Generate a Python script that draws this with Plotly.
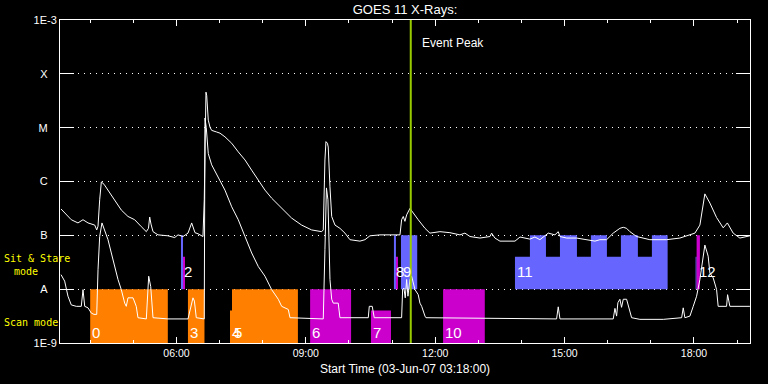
import pandas as pd
import plotly.graph_objects as go

# ---------------- data ----------------
start_time = "2007-06-03 03:18:00"
event_peak = "2007-06-03 11:26:00"

# GOES 11 long channel (1-8 A): minutes after start, flux (W/m^2)
long_min = [1.4, 15.7, 25.0, 32.0, 39.0, 48.3, 51.1, 52.9, 55.2, 57.5, 61.2, 66.8, 76.1, 85.3, 94.6,
            103.9, 113.1, 120.1, 123.1, 124.8, 126.6, 129.4, 136.3, 150.2, 159.6, 164.2, 171.1, 178.1,
            183.2, 187.8, 192.0, 198.9, 200.7, 202.1, 203.1, 204.1, 205.0, 206.3, 208.7, 211.0, 218.0,
            222.6, 229.5, 238.9, 248.0, 257.4, 266.7, 275.9, 285.2, 294.5, 308.4, 322.3, 336.2, 350.1,
            364.0, 366.3, 368.6, 370.0, 372.1, 373.2, 375.6, 378.0, 382.6, 389.5, 396.5, 403.4, 417.3,
            424.3, 431.2, 445.2, 459.1, 473.0, 475.3, 477.6, 479.9, 482.3, 486.9, 491.5, 498.4, 507.8,
            514.7, 528.6, 542.5, 556.4, 563.4, 570.4, 584.3, 598.2, 600.5, 605.1, 612.1, 633.0, 640.0,
            653.8, 660.8, 667.7, 679.3, 688.6, 693.2, 695.6, 704.9, 718.8, 732.7, 744.3, 751.2, 760.5,
            769.7, 779.0, 783.7, 788.3, 792.9, 802.2, 820.7, 844.0, 862.5, 883.4, 890.3, 893.8, 897.2,
            904.2, 913.5, 922.7, 928.5, 936.6, 945.9, 959.9]
long_flux = [3.09e-7, 1.95e-7, 1.70e-7, 1.95e-7, 1.70e-7, 1.55e-7, 1.26e-7, 1.48e-7, 4.57e-7, 9.8e-7,
             8.9e-7, 6.92e-7, 4.57e-7, 2.95e-7, 2.24e-7, 1.95e-7, 1.45e-7, 1.17e-7, 1.35e-7, 2.19e-7,
             1.62e-7, 1.17e-7, 1.02e-7, 9.8e-8, 9.1e-8, 1.02e-7, 9.5e-8, 1.10e-7, 1.70e-7, 1.12e-7,
             1.07e-7, 9.5e-8, 4.57e-7, 1.38e-5, 4.57e-5, 3.98e-5, 2.09e-5, 1.38e-5, 1.02e-5, 8.9e-6,
             8.3e-6, 7.9e-6, 6.76e-6, 5.13e-6, 3.55e-6, 2.51e-6, 1.62e-6, 1.07e-6, 6.92e-7, 4.90e-7,
             3.16e-7, 2.09e-7, 1.55e-7, 1.26e-7, 1.17e-7, 1.26e-7, 2.51e-6, 5.50e-6, 5.13e-6, 4.37e-6,
             7.94e-7, 2.24e-7, 1.55e-7, 1.35e-7, 1.10e-7, 8.3e-8, 7.8e-8, 8.3e-8, 9.8e-8, 1.02e-7,
             1.02e-7, 1.02e-7, 1.95e-7, 2.24e-7, 1.82e-7, 2.40e-7, 3.16e-7, 2.57e-7, 1.95e-7, 1.35e-7,
             1.10e-7, 1.17e-7, 1.12e-7, 1.02e-7, 1.10e-7, 9.5e-8, 8.9e-8, 9.5e-8, 1.10e-7, 8.9e-8,
             7.8e-8, 7.8e-8, 9.3e-8, 8.5e-8, 9.3e-8, 8.3e-8, 1.10e-7, 1.02e-7, 1.17e-7, 9.5e-8,
             8.9e-8, 8.9e-8, 8.3e-8, 7.8e-8, 8.3e-8, 8.3e-8, 1.10e-7, 1.35e-7, 1.41e-7, 1.35e-7,
             1.17e-7, 9.5e-8, 8.3e-8, 8.3e-8, 8.9e-8, 1.10e-7, 1.55e-7, 2.95e-7, 5.89e-7, 3.98e-7,
             2.14e-7, 1.38e-7, 1.70e-7, 1.10e-7, 8.9e-8, 9.8e-8]

# GOES 11 short channel (0.5-4 A)
short_min = [1.4, 6.5, 11.1, 15.7, 22.7, 29.6, 32.0, 34.4, 39.0, 43.5, 47.3, 51.1, 52.9, 55.2, 58.4,
             62.2, 66.8, 71.4, 76.1, 80.7, 85.3, 90.0, 92.2, 94.6, 101.6, 106.1, 108.5, 120.1, 123.4,
             126.2, 129.4, 150.2, 178.1, 182.7, 185.0, 187.0, 189.6, 200.7, 201.7, 203.5, 206.3, 211.0,
             220.2, 229.5, 238.9, 248.0, 257.4, 266.7, 275.9, 285.2, 294.5, 303.7, 308.4, 317.6, 320.0,
             366.3, 368.6, 370.7, 372.8, 374.2, 375.6, 378.0, 380.2, 387.1, 389.5, 428.9, 430.3, 434.4,
             437.2, 475.3, 476.7, 478.5, 480.3, 482.3, 484.1, 486.9, 489.2, 493.9, 498.4, 500.8, 503.2,
             507.8, 509.1, 690.9, 693.2, 695.6, 769.7, 772.1, 774.4, 776.2, 779.0, 781.3, 783.7, 788.3,
             790.6, 792.9, 795.3, 806.8, 839.3, 864.9, 867.1, 869.4, 876.4, 881.0, 885.7, 890.3, 892.6,
             897.2, 901.8, 904.2, 908.8, 913.5, 915.7, 927.4, 928.8, 932.0, 959.9]
short_flux = [1.86e-8, 1.41e-8, 7.4e-9, 5.1e-9, 4.8e-9, 4.8e-9, 9.8e-9, 4.8e-9, 4.5e-9, 3.6e-9, 3.4e-9,
              3.4e-9, 2.29e-8, 9.5e-8, 1.70e-7, 1.26e-7, 8.3e-8, 4.7e-8, 2.63e-8, 1.51e-8, 9.8e-9,
              5.5e-9, 4.8e-9, 6.9e-9, 6.9e-9, 4.8e-9, 2.95e-9, 2.8e-9, 1.74e-8, 1.12e-8, 2.95e-9,
              2.8e-9, 2.8e-9, 5.5e-9, 6.9e-9, 6.0e-9, 2.95e-9, 2.8e-9, 1.51e-5, 1.0e-5, 3.3e-6,
              2.04e-6, 1.23e-6, 6.92e-7, 3.39e-7, 1.95e-7, 9.5e-8, 4.7e-8, 2.63e-8, 1.74e-8, 9.8e-9,
              6.5e-9, 4.8e-9, 4.2e-9, 2.95e-9, 2.8e-9, 5.4e-8, 7.6e-7, 4.57e-7, 4.2e-8, 1.51e-8,
              6.5e-9, 5.5e-9, 5.5e-9, 2.95e-9, 2.95e-9, 4.8e-9, 4.8e-9, 2.95e-9, 2.95e-9, 9.8e-9,
              1.05e-8, 6.9e-9, 1.51e-8, 7.4e-9, 1.51e-8, 1.74e-8, 9.8e-9, 7.9e-9, 5.5e-9, 4.8e-9,
              3.16e-9, 2.95e-9, 2.8e-9, 4.7e-9, 2.8e-9, 2.8e-9, 4.4e-9, 3.16e-9, 5.6e-9, 6.5e-9,
              4.6e-9, 6.5e-9, 6.5e-9, 4.8e-9, 3.8e-9, 2.95e-9, 2.75e-9, 2.75e-9, 2.95e-9, 4.5e-9,
              2.95e-9, 3.16e-9, 4.8e-9, 7.4e-9, 1.51e-8, 2.69e-8, 6.6e-8, 4.1e-8, 2.0e-8, 1.62e-8,
              9.8e-9, 4.8e-9, 4.8e-9, 7.9e-9, 4.8e-9, 4.8e-9]

# Observation blocks: start / end (minutes after start), mode band, program, coverage
blk_start = [42, 178, 236.5, 239.3, 348, 432.6, 533, 168.3, 171.1, 464.6, 467.4, 474.4,
             633, 653.8, 695.6, 738.6, 780.4, 823.5, 884.3, 885.7]
blk_end = [150, 201, 239.3, 331, 405, 460.5, 591, 171.1, 173.9, 467.4, 470.2, 497,
           845.4, 676.1, 719.2, 760.9, 804, 845.4, 885.7, 890.3]
blk_band = ["scan", "scan", "scan", "scan", "scan", "scan", "scan", "sit", "sit", "sit", "sit", "sit",
            "sit", "sit", "sit", "sit", "sit", "sit", "sit", "sit"]
blk_prog = ["o", "o", "o", "o", "m", "m", "m", "b", "m", "b", "m", "b",
            "b", "b", "b", "b", "b", "b", "b", "m"]
blk_cover = ["full", "full", "part", "full", "full", "part", "full", "full", "part", "full", "part", "full",
             "part", "full", "full", "full", "full", "full", "part", "full"]

# Block numbers
lbl_text = ["0", "2", "3", "4", "5", "6", "7", "8", "9", "10", "11", "12"]
lbl_min = [42, 169.7, 178, 236.5, 239.3, 348, 432.6, 464.6, 474.4, 533, 633, 885.7]
lbl_band = ["scan", "sit", "scan", "scan", "scan", "scan", "scan", "sit", "sit", "scan", "sit", "sit"]

y_tickvals = [1e-9, 1e-8, 1e-7, 1e-6, 1e-5, 1e-4, 1e-3]
y_ticktext = ["1E-9", "A", "B", "C", "M", "X", "1E-3"]

# ---------------- figure ----------------
t0 = pd.Timestamp(start_time)


def to_t(m):
    return t0 + pd.Timedelta(minutes=m)


band_limits = {"scan": (1e-9, 4e-9, 1e-8), "sit": (1e-8, 4e-8, 1e-7)}
prog_color = {"o": "#FF8000", "m": "#CC00CC", "b": "#6666FF"}

fig = go.Figure()

for prog in ["o", "b", "m"]:
    xs, ys = [], []
    for s, e, band, p, cov in zip(blk_start, blk_end, blk_band, blk_prog, blk_cover):
        if p != prog:
            continue
        lo, mid, hi = band_limits[band]
        top = hi if cov == "full" else mid
        xs += [to_t(s), to_t(e), to_t(e), to_t(s), to_t(s), None]
        ys += [lo, lo, top, top, lo, None]
    fig.add_trace(go.Scatter(x=xs, y=ys, mode="lines", fill="toself",
                             fillcolor=prog_color[prog], line=dict(width=0, color=prog_color[prog]),
                             hoverinfo="skip", showlegend=False))

fig.add_trace(go.Scatter(x=[to_t(m) for m in long_min], y=long_flux, mode="lines",
                         line=dict(color="white", width=1), showlegend=False))
fig.add_trace(go.Scatter(x=[to_t(m) for m in short_min], y=short_flux, mode="lines",
                         line=dict(color="white", width=1), showlegend=False))

ev = pd.Timestamp(event_peak)
fig.add_trace(go.Scatter(x=[ev, ev], y=[1e-9, 1e-3], mode="lines",
                         line=dict(color="#99CC00", width=2), showlegend=False))

label_y = {"scan": -8.81, "sit": -7.68}
for txt, m, band in zip(lbl_text, lbl_min, lbl_band):
    fig.add_annotation(x=to_t(m), y=label_y[band], text=txt, showarrow=False,
                       xanchor="left", yanchor="middle", xshift=0,
                       font=dict(family="Liberation Sans", size=15, color="white"))

fig.add_annotation(x=ev, y=0.929, yref="paper", text="Event Peak", showarrow=False,
                   xanchor="left", yanchor="middle", xshift=9,
                   font=dict(family="Liberation Sans", size=12, color="white"))

fig.add_annotation(x=0.5, y=0, xref="paper", yref="paper", yanchor="top", yshift=-17,
                   text="Start Time (03-Jun-07 03:18:00)", showarrow=False,
                   font=dict(family="Liberation Sans", size=12, color="white"))

yel = dict(family="DejaVu Sans Mono", size=10, color="#FFFF00")
fig.add_annotation(x=-0.084, y=-7.43, xref="paper", yref="y", text="Sit & Stare", showarrow=False,
                   xanchor="left", yanchor="middle", font=yel)
fig.add_annotation(x=-0.069, y=-7.67, xref="paper", yref="y", text="mode", showarrow=False,
                   xanchor="left", yanchor="middle", font=yel)
fig.add_annotation(x=-0.084, y=-8.62, xref="paper", yref="y", text="Scan mode", showarrow=False,
                   xanchor="left", yanchor="middle", font=yel)

nb = "\u00a0\u00a0\u00a0"
fig.update_layout(
    width=768, height=384,
    margin=dict(l=60, r=18, t=20, b=41),
    paper_bgcolor="black", plot_bgcolor="black",
    font=dict(family="Liberation Sans", color="white", size=11),
    title=dict(text="GOES 11 X-Rays:", x=0.5, xref="paper", xanchor="center",
               y=1 - 9.5 / 384, yanchor="middle",
               font=dict(family="Liberation Sans", size=13, color="white")),
    xaxis=dict(type="date", range=[to_t(0), to_t(960)],
               tick0="2007-06-03 00:00", dtick=3 * 3600 * 1000, tickformat="%H:%M",
               ticks="inside", ticklen=6, tickcolor="white", tickwidth=1,
               minor=dict(dtick=3600 * 1000, ticks="inside", ticklen=3, tickcolor="white",
                          showgrid=False),
               showline=True, linecolor="white", linewidth=1, mirror="ticks",
               showgrid=False, zeroline=False,
               tickfont=dict(family="Liberation Sans", size=10.5, color="white")),
    yaxis=dict(type="log", range=[-9, -3], tickvals=y_tickvals,
               ticktext=[t if t.startswith("1E") else t + nb for t in y_ticktext],
               ticks="inside", ticklen=14, tickcolor="white", tickwidth=1,
               showline=True, linecolor="white", linewidth=1, mirror="ticks",
               showgrid=True, gridcolor="white", gridwidth=1, griddash="1px,5px",
               zeroline=False,
               tickfont=dict(family="Liberation Sans", size=11, color="white")),
)

fig.write_html("out.html", config={"displayModeBar": False},
               post_script="document.body.style.margin='0';document.body.style.background='black';")
